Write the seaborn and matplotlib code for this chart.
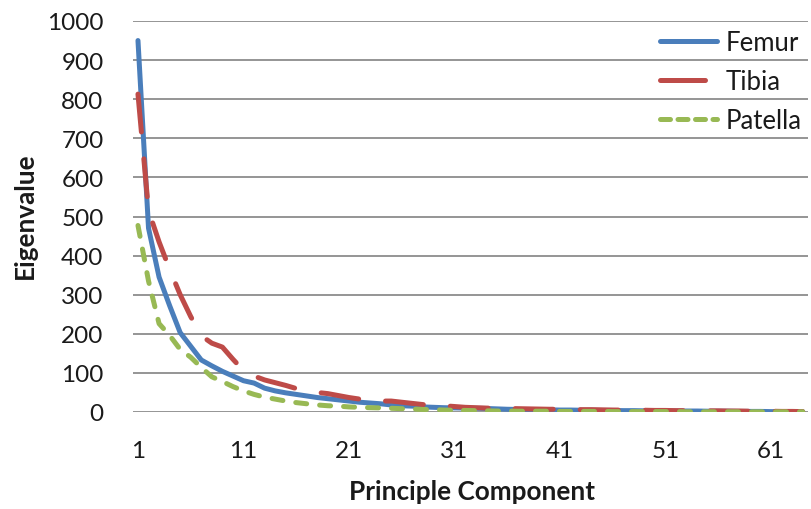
import numpy as np
import pandas as pd
import matplotlib
matplotlib.use("Agg")
import matplotlib.pyplot as plt
import seaborn as sns
from matplotlib.lines import Line2D

components = list(range(1, 65))
femur = [950, 470, 345, 272, 203, 168, 133, 118, 104, 92,
         80, 74, 61, 54, 49, 45, 41, 37, 34, 31,
         28, 25, 23, 21, 18, 16, 15, 13, 12, 11,
         10.5, 10, 9.5, 9, 8, 7, 6.5,
         6, 5.5, 5.5, 5, 5, 4.5, 4.5, 4, 4, 3.5, 3.5, 3, 3, 3,
         2.5, 2.5, 2.5, 2, 2, 2, 1.5, 1.5, 1.5, 1, 1, 1, 0.5]
tibia = [813, 515, 435, 365, 300, 244, 195, 176, 166, 135,
         106, 92, 82, 75, 68, 60, 54, 50, 47, 42,
         37, 33, 29, 28, 28, 25, 22, 19, 17, 16,
         14, 12, 11, 10, 9.5, 9, 8.5,
         8, 7.5, 7, 7, 6.5, 6, 6, 5.5, 5, 5, 4.5, 4.5, 4, 4,
         3.5, 3.5, 3, 3, 3, 2.5, 2.5, 2, 2, 2, 1.5, 1.5, 1]
patella = [477, 335, 226, 196, 160, 140, 114, 90, 78, 65,
           54, 45, 38, 33, 28, 24, 21, 18, 16, 15,
           13, 12, 11, 10.5, 9.5, 8.5, 7.5, 6.5, 6, 5,
           4.5, 4, 3.5, 3, 2.5, 2.5, 2,
           2, 2, 2, 1.5, 1.5, 1.5, 1.5, 1.5, 1, 1, 1, 1, 1, 1, 1,
           0.5, 0.5, 0.5, 0.5, 0.5, 0.5, 0.5, 0.5, 0.5, 0.5, 0.5, 0.5]
series_names = ["Femur", "Tibia", "Patella"]
x_ticks = [1, 11, 21, 31, 41, 51, 61]
y_ticks = [0, 100, 200, 300, 400, 500, 600, 700, 800, 900, 1000]

df = pd.DataFrame({
    "pc": components * 3,
    "val": femur + tibia + patella,
    "bone": ["Femur"] * 64 + ["Tibia"] * 64 + ["Patella"] * 64,
})

sns.set_theme(style="white")
plt.rcParams["font.family"] = ["Lato", "DejaVu Sans"]

W, H = 811, 510
fig = plt.figure(figsize=(W / 100, H / 100), dpi=100)
ax = fig.add_axes([132.7 / W, 1 - 413 / H, (808 - 132.7) / W, (413 - 22) / H])

palette = {"Femur": "#4A7EBB", "Tibia": "#BE4B48", "Patella": "#98B954"}
dashes = {"Femur": "", "Tibia": (7.6, 5.4), "Patella": (2.2, 2.6)}
legend_dashes = {"Femur": None, "Tibia": (0, (9.0, 20.0)), "Patella": (0, (2.0, 1.5))}

for yt in y_ticks:
    ax.axhline(yt, color="#8C8C8C", lw=1.3, zorder=0)

sns.lineplot(data=df, x="pc", y="val", hue="bone", style="bone",
             hue_order=series_names, style_order=series_names,
             palette=palette, dashes=dashes, linewidth=3.6,
             dash_capstyle="round", solid_capstyle="round",
             ax=ax, legend=False, zorder=3)

ax.set_xlim(0.5, 64.5)
ax.set_ylim(0, 1000)
ax.set_xticks(x_ticks)
ax.set_yticks(y_ticks)
ax.set_xticklabels([str(t) for t in x_ticks])
ax.set_yticklabels([str(t) for t in y_ticks])
ax.tick_params(axis="both", length=0, labelsize=17.5, colors="#1a1a1a")
ax.tick_params(axis="y", pad=21)
ax.tick_params(axis="x", pad=20)
for s in ax.spines.values():
    s.set_visible(False)

ax.set_xlabel("")
ax.set_ylabel("")
fig.text(472 / W, 1 - 492 / H, "Principle Component", ha="center", va="center",
         fontsize=18.8, fontweight="bold", color="#1a1a1a")
fig.text(25 / W, 1 - 216 / H, "Eigenvalue", ha="center", va="center",
         rotation=90, fontsize=18.8, fontweight="bold", color="#1a1a1a")

handles = [Line2D([0], [0], color=palette[n], lw=3.6,
                  linestyle=legend_dashes[n] if legend_dashes[n] else "-",
                  dash_capstyle="round", solid_capstyle="round")
           for n in series_names]
leg = ax.legend(handles, series_names, loc="upper right",
                bbox_to_anchor=(802 / W, 1 - 31 / H),
                bbox_transform=fig.transFigure, frameon=False,
                fontsize=18.5, handlelength=2.2, handletextpad=0.35,
                labelspacing=0.55, borderpad=0, borderaxespad=0)
for t in leg.get_texts():
    t.set_color("#1a1a1a")

fig.savefig("out.png", dpi=100, facecolor="white")
